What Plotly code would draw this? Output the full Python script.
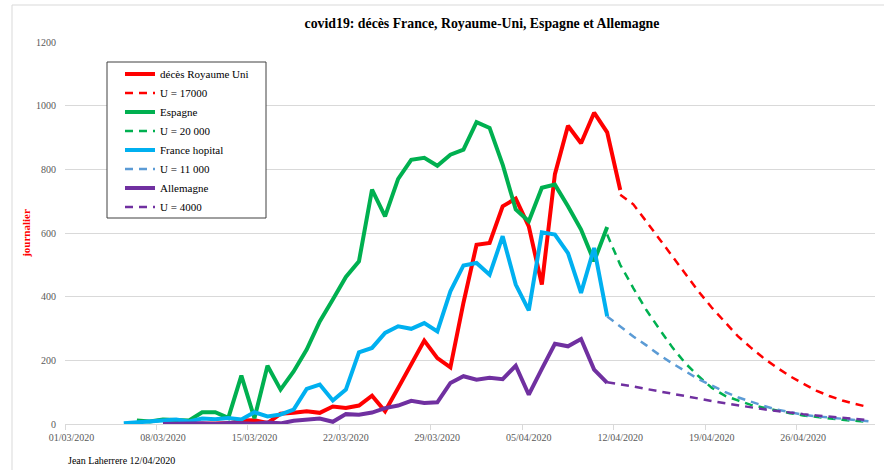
import pandas as pd
import plotly.graph_objects as go

# --- données (décès journaliers) ---
uk_first = "2020-03-10"
uk_deaths = [0, 1, 1, 2, 11, 12, 3, 32, 35, 40, 35, 55, 50, 58, 89, 40, 113, 186, 262,
             207, 178, 381, 563, 569, 684, 708, 621, 438, 785, 937, 882, 978, 916, 735]
uk_model_first = "2020-04-12"
uk_model = [720, 690, 636, 581, 526, 470, 416, 366, 320, 276, 240, 206, 177, 150,
            127, 105, 88, 74, 63, 53]

es_first = "2020-03-06"
es_deaths = [11, 8, 14, 11, 11, 37, 37, 19, 152, 18, 183, 108, 165, 234, 322, 391, 462,
             511, 736, 652, 770, 830, 836, 811, 846, 862, 948, 930, 815, 674, 637, 742,
             752, 684, 611, 511, 619]
es_model_first = "2020-04-11"
es_model = [595, 500, 427, 358, 298, 240, 190, 150, 114, 89, 74, 60, 51, 42, 34, 27,
            22, 17, 13, 10, 7]

fr_first = "2020-03-05"
fr_deaths = [2, 5, 8, 11, 14, 8, 17, 15, 19, 14, 37, 24, 30, 45, 110, 124, 74, 108, 225,
             239, 286, 307, 299, 317, 291, 417, 498, 506, 469, 590, 438, 357, 602, 595,
             537, 412, 553, 338]
fr_model_first = "2020-04-11"
fr_model = [338, 307, 275, 247, 217, 190, 166, 141, 121, 101, 84, 70, 57, 45, 36, 29,
            24, 20, 16, 12, 9]

de_first = "2020-03-08"
de_deaths = [0, 1, 1, 2, 0, 3, 2, 1, 5, 2, 10, 14, 17, 7, 31, 29, 36, 50, 58, 73, 66, 68,
             129, 150, 139, 145, 141, 183, 92, 173, 252, 244, 267, 171, 129]
de_model_first = "2020-04-11"
de_model = [131, 125, 118, 110, 103, 95, 87, 80, 72, 65, 58, 52, 46, 41, 35, 31, 27, 23,
            19, 15, 12]

tick_dates = ["2020-03-01", "2020-03-08", "2020-03-15", "2020-03-22", "2020-03-29",
              "2020-04-05", "2020-04-12", "2020-04-19", "2020-04-26"]
tick_text = [pd.Timestamp(d).strftime("%d/%m/%Y") for d in tick_dates]


def dates(first, values):
    return pd.date_range(first, periods=len(values), freq="D")


FONT = "Liberation Serif"
GRID = "#D9D9D9"

fig = go.Figure()

series = [
    ("décès Royaume Uni", uk_first, uk_deaths, "#FF0000", "solid"),
    ("U = 17000", uk_model_first, uk_model, "#FF0000", "dash"),
    ("Espagne", es_first, es_deaths, "#00B050", "solid"),
    ("U = 20 000", es_model_first, es_model, "#00B050", "dash"),
    ("France hopital", fr_first, fr_deaths, "#00B0F0", "solid"),
    ("U = 11 000", fr_model_first, fr_model, "#5B9BD5", "dash"),
    ("Allemagne", de_first, de_deaths, "#7030A0", "solid"),
    ("U = 4000", de_model_first, de_model, "#7030A0", "dash"),
]

for name, first, vals, color, style in series:
    if style == "solid":
        line = dict(color=color, width=4)
    else:
        line = dict(color=color, width=2.5, dash="8px,6px")
    # one legend group per trace so tracegroupgap spaces the rows like Excel
    fig.add_trace(go.Scatter(x=dates(first, vals), y=vals, name=name,
                             legendgroup=name, mode="lines", line=line))

# tick marks at day boundaries, labels on the day itself
minor_ticks = [pd.Timestamp(d) - pd.Timedelta(hours=12) for d in tick_dates]


def px_x(p):
    return (p - 65) / 810


def px_y(p):
    return (424 - p) / 382


fig.update_layout(
    width=884,
    height=470,
    margin=dict(l=65, r=9, t=42, b=46),
    paper_bgcolor="white",
    plot_bgcolor="white",
    font=dict(family=FONT, color="#595959", size=10),
    title=dict(text="<b>covid19: décès France, Royaume-Uni, Espagne et Allemagne</b>",
               x=482 / 884, xanchor="center", y=1 - 23 / 470, yanchor="middle",
               font=dict(family=FONT, size=13.8, color="#000000")),
    showlegend=True,
    legend=dict(x=px_x(120), y=px_y(59.5), xanchor="left", yanchor="top",
                bgcolor="rgba(0,0,0,0)", borderwidth=0,
                font=dict(family=FONT, size=11, color="#000000"),
                traceorder="normal", tracegroupgap=2.3),
    shapes=[
        dict(type="rect", xref="paper", yref="paper",
             x0=px_x(12), x1=px_x(890), y0=px_y(475), y1=px_y(5),
             line=dict(color=GRID, width=1), fillcolor="rgba(0,0,0,0)", layer="below"),
        dict(type="rect", xref="paper", yref="paper",
             x0=px_x(107), x1=px_x(266), y0=px_y(218), y1=px_y(62),
             line=dict(color="#404040", width=1), fillcolor="white", layer="above"),
    ],
    annotations=[
        dict(text="Jean Laherrere 12/04/2020", xref="paper", yref="paper",
             x=px_x(66), y=px_y(460), xanchor="left", yanchor="middle",
             showarrow=False, font=dict(family=FONT, size=10, color="#000000")),
    ],
)

fig.update_xaxes(
    type="date",
    range=["2020-02-29 12:00", "2020-05-01 12:00"],
    tickvals=tick_dates,
    ticktext=tick_text,
    ticks="",
    ticklabelstandoff=4,
    showgrid=False,
    showline=True,
    linecolor=GRID,
    linewidth=1,
    zeroline=False,
    minor=dict(tickvals=minor_ticks, ticks="outside", ticklen=5, tickcolor=GRID,
               showgrid=False),
    tickfont=dict(family=FONT, size=10, color="#595959"),
)

fig.update_yaxes(
    range=[0, 1200],
    dtick=200,
    showgrid=True,
    gridcolor=GRID,
    gridwidth=1,
    zeroline=False,
    showline=False,
    ticks="",
    ticklabelstandoff=8,
    tickfont=dict(family=FONT, size=10, color="#595959"),
    title=dict(text="<b>journalier</b>", standoff=3,
               font=dict(family=FONT, size=11, color="#FF0000")),
)

# the page's default body margin would shift the figure by 8px
fig.write_html("out.html", config={"displayModeBar": False},
               post_script="document.body.style.margin='0';")
